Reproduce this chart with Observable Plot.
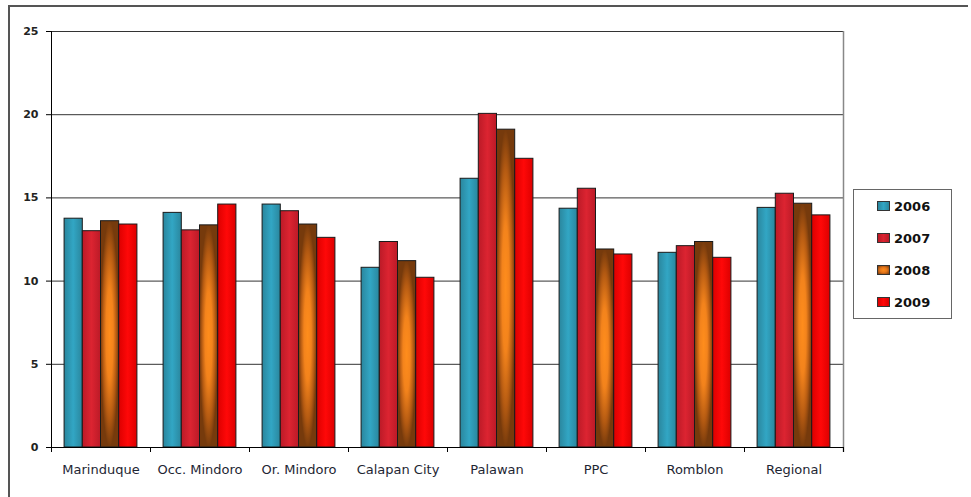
<!DOCTYPE html>
<html>
<head>
<meta charset="utf-8">
<script src="https://cdn.jsdelivr.net/npm/d3@7"></script>
<script src="https://cdn.jsdelivr.net/npm/@observablehq/plot@0.6"></script>
<style>
  html, body { margin: 0; padding: 0; background: #fff; overflow: hidden; }
  #wrap { position: relative; width: 971px; height: 497px; overflow: hidden; }
  #border { position: absolute; left: 8px; top: 5px; width: 960px; height: 600px;
            border-top: 2px solid #555; border-left: 2px solid #555; box-sizing: border-box; }
  #chart { position: absolute; left: 0; top: 0; }
  #legend { position: absolute; left: 853px; top: 189px; width: 99px; height: 130px;
            border: 1.5px solid #666; box-sizing: border-box; background: #fff;
            display: flex; flex-direction: column; justify-content: space-around;
            font-family: "DejaVu Sans", sans-serif; font-weight: bold; font-size: 13px; color: #111; }
  .item { display: flex; align-items: center; padding-left: 23px; }
  .sw { width: 11px; height: 8px; border: 1px solid #333; margin-right: 4px; }
</style>
</head>
<body>
<div id="wrap">
  <div id="border"></div>
  <div id="chart"></div>
  <div id="legend"></div>
</div>
<script>
// Regions and yearly values
const categories = ["Marinduque", "Occ. Mindoro", "Or. Mindoro", "Calapan City", "Palawan", "PPC", "Romblon", "Regional"];
const years = [2006, 2007, 2008, 2009];
const v2006 = [13.75, 14.1, 14.6, 10.8, 16.15, 14.35, 11.7, 14.4];
const v2007 = [13.0, 13.05, 14.2, 12.35, 20.05, 15.55, 12.1, 15.25];
const v2008 = [13.6, 13.35, 13.4, 11.2, 19.1, 11.9, 12.35, 14.65];
const v2009 = [13.4, 14.6, 12.6, 10.2, 17.35, 11.6, 11.4, 13.95];
const yTicks = [0, 5, 10, 15, 20, 25];

const series = [v2006, v2007, v2008, v2009];
const rows = [];
categories.forEach((c, i) => years.forEach((yr, j) => rows.push({category: c, year: yr, value: series[j][i]})));

// Gradient fills per year
const fills = years.map(y => `url(#g${y})`);
const gradients = [
  {id: "g2006", type: "linear", stops: [[0, "#2a869d"], [0.5, "#32a6c4"], [1, "#2a869d"]]},
  {id: "g2007", type: "linear", stops: [[0, "#bb1a27"], [0.5, "#dc2431"], [1, "#bb1a27"]]},
  {id: "g2008", type: "radial", stops: [[0, "#ff8d1c"], [0.4, "#f3831c"], [0.75, "#b45a12"], [1, "#763a0c"]]},
  {id: "g2009", type: "linear", stops: [[0, "#dc0000"], [0.5, "#ff0808"], [1, "#dc0000"]]}
];
const cssFills = {
  g2006: "linear-gradient(90deg,#2a869d,#32a6c4,#2a869d)",
  g2007: "linear-gradient(90deg,#bb1a27,#dc2431,#bb1a27)",
  g2008: "radial-gradient(#ff8d1c,#e5761a 45%,#763a0c)",
  g2009: "linear-gradient(90deg,#dc0000,#ff0808,#dc0000)"
};

// Each facet holds the four yearly bars, centred with equal side gaps
const pad = 0.719;
const xMin = years[0] - pad;
const xMax = years[years.length - 1] + 1 + pad;

const chart = Plot.plot({
  width: 971,
  height: 497,
  marginLeft: 50,
  marginRight: 127,
  marginTop: 31,
  marginBottom: 50,
  style: {fontFamily: "DejaVu Sans, sans-serif", background: "transparent", color: "#222", overflow: "visible"},
  fx: {domain: categories, padding: 0, label: null},
  x: {domain: [xMin, xMax], axis: null},
  y: {domain: [0, 25], axis: null},
  color: {domain: years, range: fills},
  marks: [
    Plot.ruleY(yTicks, {stroke: "#333", strokeWidth: 1}),
    Plot.ruleX([{category: categories[categories.length - 1]}], {fx: "category", x: xMax, stroke: "#888", strokeWidth: 1.5, insetBottom: -5}),
    Plot.rect(rows, {fx: "category", x1: "year", x2: d => d.year + 1, y1: 0, y2: "value", fill: "year", stroke: "#1a1a1a", strokeWidth: 1}),
    Plot.ruleY([0], {stroke: "#000", strokeWidth: 1}),
    Plot.ruleX(categories, {fx: d => d, x: xMin, y1: 0, y2: 0, insetBottom: -5, stroke: "#000"}),
    Plot.ruleX(categories, {fx: d => d, x: xMax, y1: 0, y2: 0, insetBottom: -5, stroke: "#000"}),
    Plot.ruleX([{category: categories[0]}], {fx: "category", x: xMin, stroke: "#000", insetBottom: -5}),
    Plot.axisY(yTicks, {tickSize: 5, tickPadding: 8, fontWeight: "bold", fontSize: 11, label: null, stroke: "#000"}),
    Plot.axisFx({anchor: "bottom", tickSize: 0, tickPadding: 17, fontSize: 13, label: null, fill: "#1e2633"})
  ]
});

// Attach gradient definitions to the chart's SVG
const svg = d3.select(chart.tagName.toLowerCase() === "svg" ? chart : chart.querySelector("svg"));
const defs = svg.insert("defs", ":first-child");
gradients.forEach(g => {
  const el = g.type === "linear"
    ? defs.append("linearGradient").attr("id", g.id).attr("x1", 0).attr("x2", 1).attr("y1", 0).attr("y2", 0)
    : defs.append("radialGradient").attr("id", g.id).attr("cx", 0.5).attr("cy", 0.5).attr("r", 0.5);
  g.stops.forEach(([o, c]) => el.append("stop").attr("offset", o).attr("stop-color", c));
});
document.getElementById("chart").appendChild(chart);

// Legend
const legend = d3.select("#legend");
years.forEach(y => {
  const it = legend.append("div").attr("class", "item");
  it.append("div").attr("class", "sw").style("background", cssFills["g" + y]);
  it.append("span").text(y);
});
</script>
</body>
</html>
